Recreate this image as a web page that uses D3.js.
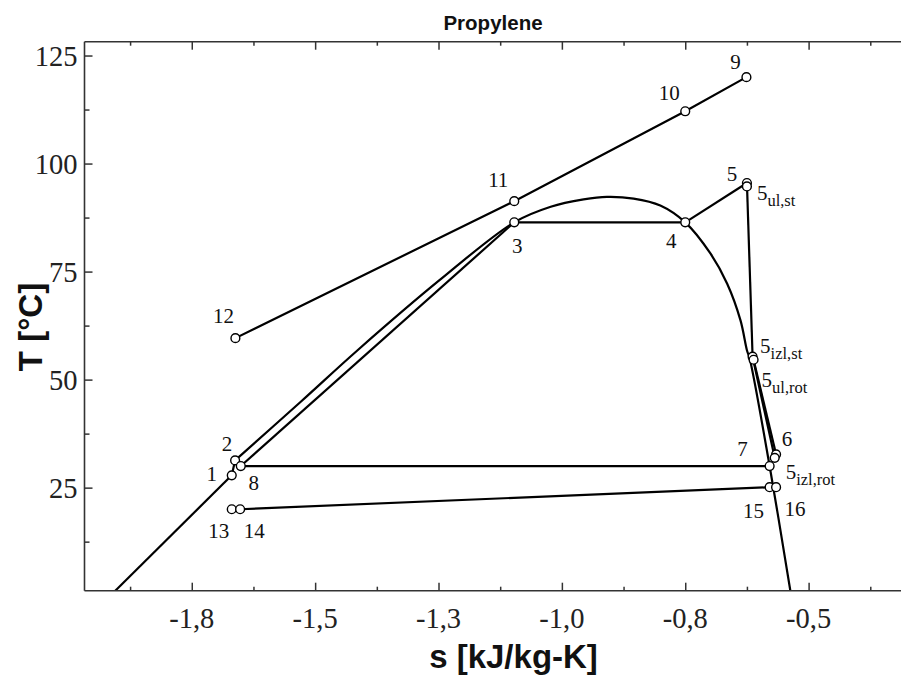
<!DOCTYPE html>
<html>
<head>
<meta charset="utf-8">
<script src="https://cdn.jsdelivr.net/npm/d3@7"></script>
<style>
  html, body { margin: 0; padding: 0; background: #fff; }
  svg { display: block; }
</style>
</head>
<body>
<script>
// ---------------- DATA ----------------
const chartTitle = "Propylene";
const xAxisTitle = "s [kJ/kg-K]";
const yAxisTitle = "T [°C]";

// state points (entropy s [kJ/kg-K], temperature T [°C])
const pointNames = ["1", "2", "3", "4", "5", "5ul,st", "5izl,st", "5ul,rot", "6", "5izl,rot",
                    "7", "8", "9", "10", "11", "12", "13", "14", "15", "16"];
const pointS = [-1.669, -1.6622, -1.0965, -0.750, -0.625, -0.625, -0.6135, -0.6115, -0.5659, -0.5687,
                -0.579, -1.6507, -0.626, -0.750, -1.0965, -1.6616, -1.669, -1.652, -0.579, -0.5659];
const pointT = [27.85, 31.3, 86.4, 86.4, 95.5, 94.7, 55.3, 54.6, 32.7, 31.9,
                30.0, 30.0, 120.0, 112.1, 91.3, 59.6, 20.0, 20.0, 25.1, 25.1];

// process lines (sequences of state points)
const processLines = [
  ["12", "11", "10", "9"],
  ["8", "3"],
  ["3", "4"],
  ["4", "5"],
  ["5", "5izl,st"],
  ["5izl,st", "5izl,rot"],
  ["5ul,rot", "6"],
  ["7", "8"],
  ["14", "15"],
  ["1", "2"]
];

// saturation curve (lower liquid part, straight)
const satLowS = [-1.905, -1.669];
const satLowT = [1.15, 27.85];
// saturation curve (from point 2 over the dome to the bottom)
const satS = [-1.6622, -1.528, -1.414, -1.248, -1.0965, -1.0226, -0.956, -0.9086, -0.8546, -0.8005,
              -0.750, -0.699, -0.665, -0.638, -0.625, -0.6194, -0.579, -0.537];
const satT = [31.3, 45.0, 56.8, 73.0, 86.4, 90.0, 91.7, 92.3, 91.9, 90.3,
              86.4, 79.2, 72.2, 63.7, 56.8, 54.9, 30.0, 1.15];

// axis ticks
const xMajorTicks = [-1.75, -1.5, -1.25, -1.0, -0.75, -0.5];
const xTickLabels = ["-1,8", "-1,5", "-1,3", "-1,0", "-0,8", "-0,5"];
const xMinorTicks = [-1.875, -1.625, -1.375, -1.125, -0.875, -0.625, -0.375];
const yMajorTicks = [25, 50, 75, 100, 125];
const yTickLabels = ["25", "50", "75", "100", "125"];
const yMinorTicks = [12.5, 37.5, 62.5, 87.5, 112.5];

// ---------------- LAYOUT (positions/styles) ----------------
const W = 901, H = 682;
const plot = { left: 84.5, right: 907, top: 41.7, bottom: 590.7 };
const xDomain = [-1.9674, -0.3006];
const yDomain = [1.15, 128.2];

// label placement: [dx, dy, anchor] relative to point (pixels)
const labelLayout = {
  "9": [-11, -15, "middle"], "10": [-16, -19, "middle"], "11": [-16, -21, "middle"],
  "12": [-12, -22, "middle"], "3": [3, 23, "middle"], "4": [-14, 18, "middle"],
  "5": [-15, -9, "middle"], "1": [-20, -2, "middle"], "2": [-8, -17, "middle"],
  "8": [13, 17, "middle"], "13": [-13, 21, "middle"], "14": [14, 21, "middle"],
  "15": [-16, 23, "middle"], "16": [19, 21, "middle"], "6": [11, -16, "middle"],
  "7": [-27, -17, "middle"],
  "5ul,st": [10, 6, "start"], "5izl,st": [7.5, -11.5, "start"],
  "5ul,rot": [8, 20, "start"], "5izl,rot": [11, 14, "start"]
};

// ---------------- DRAW ----------------
const svg = d3.select("body").append("svg").attr("width", W).attr("height", H);

const x = d3.scaleLinear().domain(xDomain).range([plot.left, plot.right]);
const y = d3.scaleLinear().domain(yDomain).range([plot.bottom, plot.top]);

const pts = {};
pointNames.forEach((n, i) => { pts[n] = { s: pointS[i], T: pointT[i] }; });

svg.append("defs").append("clipPath").attr("id", "clip")
  .append("rect").attr("x", plot.left).attr("y", plot.top)
  .attr("width", plot.right - plot.left).attr("height", plot.bottom - plot.top);

const g = svg.append("g").attr("clip-path", "url(#clip)");

const lineLin = d3.line().x(d => x(d.s)).y(d => y(d.T));
const lineCurve = d3.line().x(d => x(d.s)).y(d => y(d.T)).curve(d3.curveCatmullRom.alpha(0.5));
const LW = 2.2;

// saturation curve
g.append("path")
  .attr("d", lineLin(satLowS.map((s, i) => ({ s, T: satLowT[i] }))))
  .attr("fill", "none").attr("stroke", "#000").attr("stroke-width", LW);
g.append("path")
  .attr("d", lineCurve(satS.map((s, i) => ({ s, T: satT[i] }))))
  .attr("fill", "none").attr("stroke", "#000").attr("stroke-width", LW);

// process lines
processLines.forEach(seq => {
  g.append("path")
    .attr("d", lineLin(seq.map(n => pts[n])))
    .attr("fill", "none").attr("stroke", "#000").attr("stroke-width", LW);
});

// axes frame
const axisColor = "#333";
const frame = svg.append("g");
frame.append("line").attr("x1", plot.left).attr("x2", plot.right).attr("y1", plot.bottom).attr("y2", plot.bottom)
  .attr("stroke", axisColor).attr("stroke-width", 1.6);
frame.append("line").attr("x1", plot.left).attr("x2", plot.right).attr("y1", plot.top).attr("y2", plot.top)
  .attr("stroke", axisColor).attr("stroke-width", 1.6);
frame.append("line").attr("x1", plot.left).attr("x2", plot.left).attr("y1", plot.top).attr("y2", plot.bottom)
  .attr("stroke", axisColor).attr("stroke-width", 1.6);

// inward ticks via d3 axes
function styleAxis(sel) {
  sel.select(".domain").remove();
  sel.selectAll(".tick line").attr("stroke", axisColor).attr("stroke-width", 1.5);
}
const xMajB = svg.append("g").attr("transform", `translate(0,${plot.bottom})`)
  .call(d3.axisTop(x).tickValues(xMajorTicks).tickSize(8).tickFormat(""));
styleAxis(xMajB);
const xMinB = svg.append("g").attr("transform", `translate(0,${plot.bottom})`)
  .call(d3.axisTop(x).tickValues(xMinorTicks).tickSize(4).tickFormat(""));
styleAxis(xMinB);
const xMajT = svg.append("g").attr("transform", `translate(0,${plot.top})`)
  .call(d3.axisBottom(x).tickValues(xMajorTicks).tickSize(8).tickFormat(""));
styleAxis(xMajT);
const xMinT = svg.append("g").attr("transform", `translate(0,${plot.top})`)
  .call(d3.axisBottom(x).tickValues(xMinorTicks).tickSize(4).tickFormat(""));
styleAxis(xMinT);

const yMaj = svg.append("g").attr("transform", `translate(${plot.left},0)`)
  .call(d3.axisRight(y).tickValues(yMajorTicks).tickSize(8).tickFormat(""));
styleAxis(yMaj);
const yMin = svg.append("g").attr("transform", `translate(${plot.left},0)`)
  .call(d3.axisRight(y).tickValues(yMinorTicks).tickSize(5).tickFormat(""));
styleAxis(yMin);

// tick labels
const tickFont = "'Liberation Serif', 'Times New Roman', serif";
svg.append("g").selectAll("text").data(xMajorTicks).join("text")
  .attr("x", d => x(d)).attr("y", plot.bottom + 37)
  .attr("text-anchor", "middle").attr("font-family", tickFont).attr("font-size", 28.5).attr("fill", "#222")
  .text((d, i) => xTickLabels[i]);
svg.append("g").selectAll("text").data(yMajorTicks).join("text")
  .attr("x", plot.left - 7).attr("y", d => y(d)).attr("dy", "0.35em")
  .attr("text-anchor", "end").attr("font-family", tickFont).attr("font-size", 28.5).attr("fill", "#222")
  .text((d, i) => yTickLabels[i]);

// titles
const sans = "'Liberation Sans', Arial, Helvetica, sans-serif";
svg.append("text").attr("x", 493).attr("y", 30).attr("text-anchor", "middle")
  .attr("font-family", sans).attr("font-weight", "bold").attr("font-size", 20.5).attr("fill", "#111")
  .text(chartTitle);
svg.append("text").attr("x", 513.5).attr("y", 668).attr("text-anchor", "middle")
  .attr("font-family", sans).attr("font-weight", "bold").attr("font-size", 33).attr("fill", "#111")
  .text(xAxisTitle);
svg.append("text").attr("transform", `translate(42,327) rotate(-90)`).attr("text-anchor", "middle")
  .attr("font-family", sans).attr("font-weight", "bold").attr("font-size", 33).attr("fill", "#111")
  .text(yAxisTitle);

// points
svg.append("g").selectAll("circle").data(pointNames).join("circle")
  .attr("cx", n => x(pts[n].s)).attr("cy", n => y(pts[n].T)).attr("r", 4.4)
  .attr("fill", "#fff").attr("stroke", "#000").attr("stroke-width", 1.4);

// point labels
const labG = svg.append("g").attr("font-family", tickFont).attr("fill", "#111");
pointNames.forEach(n => {
  const [dx, dy, anchor] = labelLayout[n];
  const px = x(pts[n].s) + dx, py = y(pts[n].T) + dy;
  const t = labG.append("text").attr("x", px).attr("y", py).attr("dy", "0.35em")
    .attr("text-anchor", anchor).attr("font-size", 21);
  if (n.length > 2 && n.startsWith("5")) {
    t.append("tspan").text("5");
    t.append("tspan").attr("font-size", 16.5).attr("dy", 6).text(n.slice(1));
  } else {
    t.text(n);
  }
});
</script>
</body>
</html>
